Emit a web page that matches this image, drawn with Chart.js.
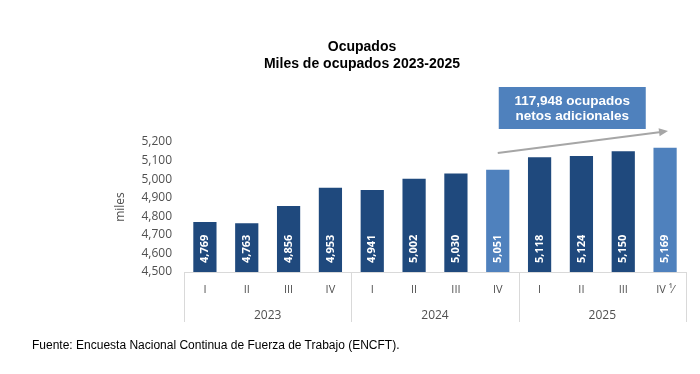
<!DOCTYPE html>
<html>
<head>
<meta charset="utf-8">
<script src="https://cdn.jsdelivr.net/npm/chart.js@4"></script>
<style>
  body { margin: 0; background: #fff; }
  #wrap { position: relative; width: 700px; height: 374px; }
  #chart { position: absolute; left: 0; top: 0; }
  #title { position: absolute; left: 0; width: 724px; top: 38px; text-align: center;
           font: bold 14px 'Liberation Sans', Arial, sans-serif; line-height: 17px; color: #000; }
  #source { position: absolute; left: 32px; top: 338px; font: 12px 'Liberation Sans', Arial, sans-serif;
            line-height: 14px; color: #000; }
</style>
</head>
<body>
<div id="wrap">
  <canvas id="chart" width="700" height="374"></canvas>
  <div id="title">Ocupados<br>Miles de ocupados 2023-2025</div>
  <div id="source">Fuente: Encuesta Nacional Continua de Fuerza de Trabajo (ENCFT).</div>
</div>
<script>
// datos (miles de ocupados por trimestre)
const quarters = ['I', 'II', 'III', 'IV', 'I', 'II', 'III', 'IV', 'I', 'II', 'III', 'IV \u00B9\u2044'];
const years = ['2023', '2024', '2025'];
const ocupados = [4769, 4763, 4856, 4953, 4941, 5002, 5030, 5051, 5118, 5124, 5150, 5169];
const annotationLines = ['117,948 ocupados', 'netos adicionales'];

const darkBlue = '#1F497D';
const lightBlue = '#4F81BD';
const axisGray = '#D9D9D9';
const textGray = '#505050';

const fmt = v => v.toLocaleString('en-US');

// etiquetas verticales dentro de las barras
const barLabels = {
  id: 'barLabels',
  afterDatasetsDraw(chart) {
    const ctx = chart.ctx;
    const ys = chart.scales.y;
    const meta = chart.getDatasetMeta(0);
    ctx.save();
    ctx.fillStyle = '#fff';
    ctx.font = "bold 11px 'Open Sans'";
    ctx.textAlign = 'left';
    ctx.textBaseline = 'middle';
    meta.data.forEach((bar, i) => {
      ctx.save();
      ctx.translate(bar.x, ys.bottom - 9);
      ctx.rotate(-Math.PI / 2);
      ctx.fillText(fmt(ocupados[i]), 0, 0);
      ctx.restore();
    });
    ctx.restore();
  }
};

// separadores de a침os en el eje x
const yearSeparators = {
  id: 'yearSeparators',
  afterDraw(chart) {
    const xs = chart.scales.x;
    const x2 = chart.scales.x2;
    const ctx = chart.ctx;
    const step = (xs.right - xs.left) / quarters.length;
    ctx.save();
    ctx.strokeStyle = axisGray;
    ctx.lineWidth = 1;
    for (let i = 0; i <= quarters.length; i += 4) {
      const x = Math.round(xs.left + step * i) + 0.5;
      ctx.beginPath();
      ctx.moveTo(x, xs.top);
      ctx.lineTo(x, x2.bottom);
      ctx.stroke();
    }
    ctx.restore();
  }
};

// flecha y cuadro de anotaci칩n
const growthNote = {
  id: 'growthNote',
  afterDraw(chart) {
    const xs = chart.scales.x;
    const ys = chart.scales.y;
    const ctx = chart.ctx;
    const x0 = xs.getPixelForValue(7), y0 = ys.getPixelForValue(5141);
    const x1 = xs.getPixelForValue(11.07), y1 = ys.getPixelForValue(5259);
    const ang = Math.atan2(y1 - y0, x1 - x0);
    ctx.save();
    ctx.strokeStyle = '#A6A6A6';
    ctx.fillStyle = '#A6A6A6';
    ctx.lineWidth = 2;
    ctx.beginPath();
    ctx.moveTo(x0, y0);
    ctx.lineTo(x1 - 7 * Math.cos(ang), y1 - 7 * Math.sin(ang));
    ctx.stroke();
    ctx.beginPath();
    ctx.moveTo(x1, y1);
    ctx.lineTo(x1 - 9 * Math.cos(ang) + 4 * Math.sin(ang), y1 - 9 * Math.sin(ang) - 4 * Math.cos(ang));
    ctx.lineTo(x1 - 9 * Math.cos(ang) - 4 * Math.sin(ang), y1 - 9 * Math.sin(ang) + 4 * Math.cos(ang));
    ctx.closePath();
    ctx.fill();

    const bx = x0 + 1, by = 87, bw = 147, bh = 42;
    ctx.fillStyle = lightBlue;
    ctx.fillRect(bx, by, bw, bh);
    ctx.fillStyle = '#fff';
    ctx.font = "bold 13.5px 'Liberation Sans'";
    ctx.textAlign = 'center';
    ctx.textBaseline = 'middle';
    ctx.fillText(annotationLines[0], bx + bw / 2, by + 14);
    ctx.fillText(annotationLines[1], bx + bw / 2, by + 29);
    ctx.restore();
  }
};

new Chart(document.getElementById('chart'), {
  type: 'bar',
  data: {
    labels: quarters,
    datasets: [{
      data: ocupados,
      backgroundColor: ctx => (ctx.dataIndex === 7 || ctx.dataIndex === 11) ? lightBlue : darkBlue,
      barPercentage: 0.555,
      categoryPercentage: 1
    }]
  },
  options: {
    responsive: false,
    animation: false,
    layout: { padding: { left: 0, right: 14, top: 142, bottom: 52 } },
    plugins: { legend: { display: false }, tooltip: { enabled: false } },
    scales: {
      x: {
        type: 'category',
        offset: true,
        grid: { display: false, drawTicks: false },
        border: { display: true, color: axisGray, width: 1 },
        ticks: { color: textGray, font: { family: 'Open Sans', size: 11 }, padding: 11, maxRotation: 0, autoSkip: false },
        afterFit: s => { s.height = 30; }
      },
      x2: {
        type: 'category',
        labels: years,
        position: 'bottom',
        offset: true,
        grid: { display: false, drawTicks: false },
        border: { display: false },
        ticks: { color: textGray, font: { family: 'Open Sans', size: 12 }, padding: 6, maxRotation: 0, autoSkip: false },
        afterFit: s => { s.height = 20; }
      },
      y: {
        min: 4500,
        max: 5200,
        grid: { display: false, drawTicks: false },
        border: { display: false },
        ticks: { stepSize: 100, color: textGray, font: { family: 'Open Sans', size: 12 }, padding: 12, callback: v => fmt(v) },
        title: { display: true, text: 'miles', color: textGray, font: { family: 'Open Sans', size: 12 }, padding: { top: 113, bottom: 0 } },
        afterFit: s => { s.width = 184; }
      }
    }
  },
  plugins: [barLabels, yearSeparators, growthNote]
});
</script>
</body>
</html>
